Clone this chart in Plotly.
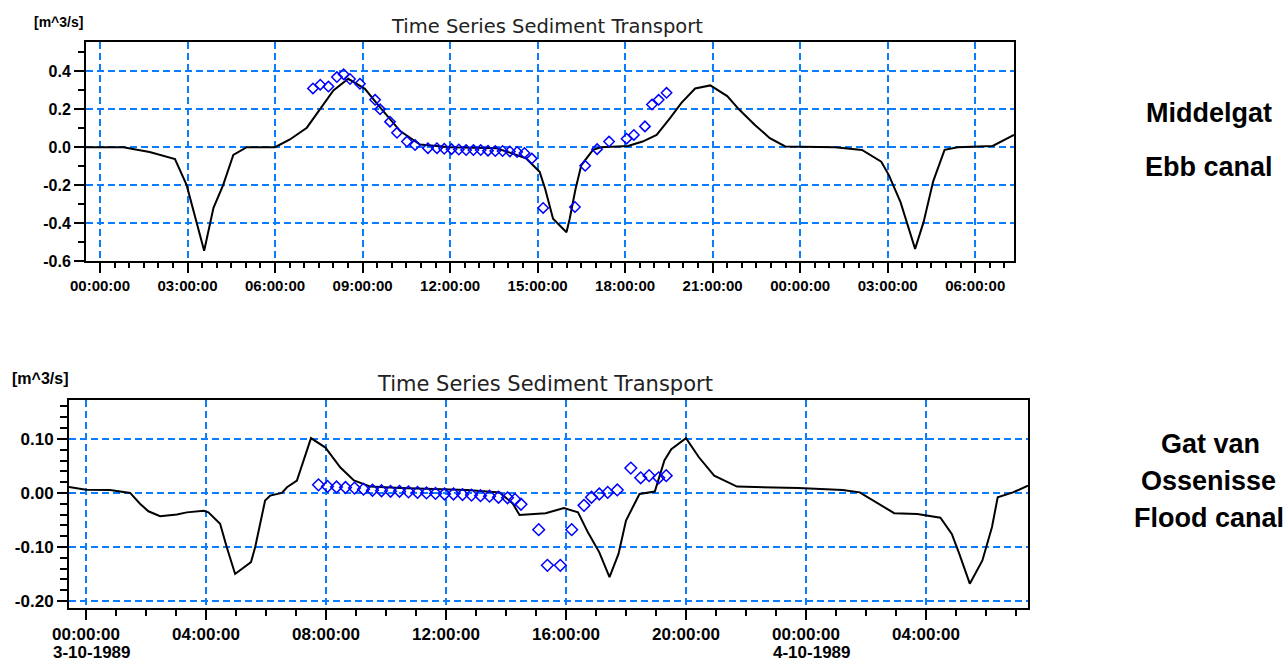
import plotly.graph_objects as go

# ---------------- data (hours since 3-10-1989 00:00) ----------------
# Middelgat, Ebb canal: model (line)
top_line_h = [-0.48, 0.8, 1.7, 2.57, 2.97, 3.57, 3.89, 4.22, 4.57, 5.03, 6.0, 6.51, 7.09, 7.6, 8.0,
              8.51, 9.08, 9.6, 10.29, 10.97, 12.0, 13.6, 14.6, 15.07, 15.26, 15.53, 15.99, 16.1,
              16.3, 16.5, 16.9, 17.17, 18.1, 18.6, 19.08, 19.54, 19.93, 20.4, 20.92, 21.5, 21.9,
              22.44, 22.96, 23.49, 25.2, 26.12, 26.78, 27.04, 27.44, 27.94, 28.23, 28.56, 28.95,
              29.4, 30.6, 31.33]
top_line_v = [0.0, 0.0, -0.025, -0.062, -0.2, -0.546, -0.32, -0.2, -0.04, 0.0, 0.0, 0.041, 0.103,
              0.21, 0.30, 0.361, 0.308, 0.21, 0.085, 0.014, 0.0, -0.005, -0.058, -0.13, -0.22,
              -0.377, -0.448, -0.377, -0.22, -0.094, -0.014, 0.0, 0.007, 0.03, 0.065, 0.154, 0.234,
              0.31, 0.326, 0.27, 0.2, 0.119, 0.048, 0.004, 0.0, -0.014, -0.076, -0.147, -0.29,
              -0.536, -0.395, -0.18, -0.014, 0.0, 0.007, 0.065]
# Middelgat, Ebb canal: measurements (diamonds)
top_obs_h = [7.3, 7.55, 7.83, 8.12, 8.35, 8.57, 8.91, 9.43, 9.6, 9.94, 10.18, 10.52, 10.8, 11.24,
             11.55, 11.8, 12.05, 12.3, 12.55, 12.8, 13.05, 13.3, 13.55, 13.8, 14.05, 14.3, 14.55,
             14.8, 15.19, 16.28, 16.63, 17.04, 17.45, 18.05, 18.3, 18.68, 18.92, 19.15, 19.42]
top_obs_v = [0.31, 0.33, 0.32, 0.37, 0.385, 0.36, 0.335, 0.25, 0.2, 0.135, 0.076, 0.03, 0.012,
             -0.005, -0.005, -0.008, -0.01, -0.012, -0.015, -0.015, -0.015, -0.018, -0.02, -0.02,
             -0.022, -0.025, -0.03, -0.06, -0.32, -0.315, -0.098, -0.01, 0.03, 0.045, 0.065, 0.11,
             0.225, 0.25, 0.287]

# Gat van Ossenisse, Flood canal: model (line)
bot_line_h = [-0.567, 0.0, 0.8, 1.47, 1.8, 2.08, 2.47, 3.03, 3.36, 3.92, 4.08, 4.47, 4.69, 4.97,
              5.5, 5.64, 5.97, 6.14, 6.53, 6.7, 7.03, 7.25, 7.5, 7.98, 8.48, 8.93, 9.48, 10.48,
              12.03, 12.7, 13.79, 14.23, 14.45, 15.32, 15.93, 16.4, 16.73, 17.11, 17.45, 17.75,
              18.0, 18.45, 18.96, 19.28, 19.51, 20.0, 20.43, 20.94, 21.7, 23.75, 25.22, 25.79,
              26.94, 27.71, 28.48, 28.86, 29.11, 29.46, 29.88, 30.2, 30.39, 30.9, 31.4]
bot_line_v = [0.011, 0.006, 0.0055, 0.0, -0.02, -0.034, -0.043, -0.04, -0.036, -0.033, -0.036,
              -0.057, -0.1, -0.15, -0.128, -0.1, -0.014, -0.005, 0.0, 0.0105, 0.023, 0.06, 0.1015,
              0.084, 0.047, 0.023, 0.0117, 0.009, 0.0074, 0.0055, 0.001, -0.02, -0.041, -0.0375,
              -0.028, -0.036, -0.073, -0.11, -0.156, -0.113, -0.051, -0.002, 0.0025, 0.06, 0.081,
              0.1015, 0.066, 0.032, 0.0117, 0.009, 0.0055, 0.001, -0.0375, -0.039, -0.046, -0.076,
              -0.113, -0.168, -0.125, -0.063, -0.008, 0.001, 0.0135]
# Gat van Ossenisse, Flood canal: measurements (diamonds)
bot_obs_h = [7.75, 8.05, 8.35, 8.65, 8.95, 9.25, 9.55, 9.85, 10.15, 10.45, 10.75, 11.05, 11.35,
             11.65, 11.95, 12.25, 12.55, 12.85, 13.15, 13.45, 13.75, 14.05, 14.3, 14.5, 15.09,
             15.38, 15.81, 16.19, 16.6, 16.85, 17.11, 17.39, 17.71, 18.16, 18.49, 18.77, 19.09,
             19.34]
bot_obs_v = [0.015, 0.012, 0.011, 0.010, 0.009, 0.007, 0.005, 0.004, 0.003, 0.003, 0.002, 0.001,
             0.0, -0.001, -0.002, -0.002, -0.003, -0.004, -0.005, -0.006, -0.008, -0.009, -0.012,
             -0.021, -0.068, -0.134, -0.134, -0.068, -0.023, -0.008, -0.002, 0.001, 0.0055, 0.046,
             0.028, 0.032, 0.028, 0.032]

# ticks
top_xtick_vals = [0, 3, 6, 9, 12, 15, 18, 21, 24, 27, 30]
top_xtick_text = ["00:00:00", "03:00:00", "06:00:00", "09:00:00", "12:00:00", "15:00:00",
                  "18:00:00", "21:00:00", "00:00:00", "03:00:00", "06:00:00"]
top_ytick_vals = [-0.6, -0.4, -0.2, 0.0, 0.2, 0.4]
top_ytick_text = ["-0.6", "-0.4", "-0.2", "0.0", "0.2", "0.4"]
bot_xtick_vals = [0, 4, 8, 12, 16, 20, 24, 28]
bot_xtick_text = ["00:00:00", "04:00:00", "08:00:00", "12:00:00", "16:00:00",
                  "20:00:00", "00:00:00", "04:00:00"]
bot_ytick_vals = [-0.2, -0.1, 0.0, 0.1]
bot_ytick_text = ["-0.20", "-0.10", "0.00", "0.10"]
date_hours = [0, 24]
date_labels = ["3-10-1989", "4-10-1989"]

title_text = "Time Series Sediment Transport"
unit_text = "[m^3/s]"

# ---------------- figure ----------------
W, H = 1288, 663
GRID = "#0a7cff"
FONT = "Liberation Sans, Arial, sans-serif"

fig = go.Figure()
fig.add_trace(go.Scatter(x=top_line_h, y=top_line_v, mode="lines",
                         line=dict(color="black", width=2), xaxis="x", yaxis="y"))
fig.add_trace(go.Scatter(x=top_obs_h, y=top_obs_v, mode="markers",
                         marker=dict(symbol="diamond-open", size=8, color="#0000ff",
                                     line=dict(width=1.5, color="#0000ff")),
                         xaxis="x", yaxis="y"))
fig.add_trace(go.Scatter(x=bot_line_h, y=bot_line_v, mode="lines",
                         line=dict(color="black", width=2), xaxis="x2", yaxis="y2"))
fig.add_trace(go.Scatter(x=bot_obs_h, y=bot_obs_v, mode="markers",
                         marker=dict(symbol="diamond-open", size=9, color="#0000ff",
                                     line=dict(width=1.5, color="#0000ff")),
                         xaxis="x2", yaxis="y2"))


def px_x(p):
    return p / W


def px_y(p):
    return 1 - p / H


def axis_common(fs):
    return dict(showline=True, linecolor="black", linewidth=2, mirror=True,
                ticks="outside", ticklen=10, tickwidth=2, tickcolor="black",
                showgrid=True, gridcolor=GRID, gridwidth=2, griddash="7px,4px",
                zeroline=False, automargin=False,
                tickfont=dict(family=FONT, size=fs, color="black", weight="bold"))


fig.update_layout(
    width=W, height=H, margin=dict(l=0, r=0, t=0, b=0, autoexpand=False),
    paper_bgcolor="white", plot_bgcolor="white", showlegend=False,
    xaxis=dict(domain=[px_x(86), px_x(1014)], range=[-0.48, 31.33], anchor="y",
               tickmode="array", tickvals=top_xtick_vals, ticktext=top_xtick_text,
               minor=dict(dtick=0.5, tick0=0, ticks="outside", ticklen=5, tickwidth=2,
                          tickcolor="black", showgrid=False),
               **axis_common(15)),
    yaxis=dict(domain=[px_y(261), px_y(42)], range=[-0.6, 0.555], anchor="x",
               tickmode="array", tickvals=top_ytick_vals, ticktext=top_ytick_text,
               minor=dict(dtick=0.1, tick0=0, ticks="outside", ticklen=6, tickwidth=2,
                          tickcolor="black", showgrid=False),
               **axis_common(16)),
    xaxis2=dict(domain=[px_x(69), px_x(1028)], range=[-0.567, 31.4], anchor="y2",
                tickmode="array", tickvals=bot_xtick_vals, ticktext=bot_xtick_text,
                minor=dict(dtick=1, tick0=0, ticks="outside", ticklen=6, tickwidth=2,
                           tickcolor="black", showgrid=False),
                **axis_common(17)),
    yaxis2=dict(domain=[px_y(608), px_y(400)], range=[-0.213, 0.172], anchor="x2",
                tickmode="array", tickvals=bot_ytick_vals, ticktext=bot_ytick_text,
                minor=dict(dtick=0.02, tick0=0, ticks="outside", ticklen=7, tickwidth=2,
                           tickcolor="black", showgrid=False),
                **axis_common(17)),
)

ann = []
# titles
ann.append(dict(text=title_text, x=px_x(547), y=px_y(27), xref="paper", yref="paper",
                showarrow=False, xanchor="center", yanchor="middle",
                font=dict(family="DejaVu Sans", size=19.5, color="#222")))
ann.append(dict(text=title_text, x=px_x(545), y=px_y(384), xref="paper", yref="paper",
                showarrow=False, xanchor="center", yanchor="middle",
                font=dict(family="DejaVu Sans", size=21, color="#222")))
# unit labels
ann.append(dict(text=unit_text, x=px_x(58), y=px_y(22), xref="paper", yref="paper",
                showarrow=False, xanchor="center", yanchor="middle",
                font=dict(family=FONT, size=14, color="black", weight="bold")))
ann.append(dict(text=unit_text, x=px_x(40), y=px_y(378), xref="paper", yref="paper",
                showarrow=False, xanchor="center", yanchor="middle",
                font=dict(family=FONT, size=16, color="black", weight="bold")))
# date labels under the midnight ticks (left-aligned with the time label)
for h, d in zip(date_hours, date_labels):
    ann.append(dict(text=d, x=h, xref="x2", y=0, yref="paper", xanchor="left",
                    yanchor="bottom", xshift=-35, yshift=-1, showarrow=False,
                    font=dict(family=FONT, size=17, color="black", weight="bold")))
# side labels
side = [("Middelgat", 1209, 113), ("Ebb canal", 1209, 167),
        ("Gat van", 1210, 444), ("Ossenisse", 1208, 481), ("Flood canal", 1209, 518)]
for t, x, y in side:
    ann.append(dict(text=t, x=px_x(x), y=px_y(y), xref="paper", yref="paper",
                    showarrow=False, xanchor="center", yanchor="middle",
                    font=dict(family=FONT, size=27, color="black", weight="bold")))
fig.update_layout(annotations=ann)

fig.write_html("out.html")
